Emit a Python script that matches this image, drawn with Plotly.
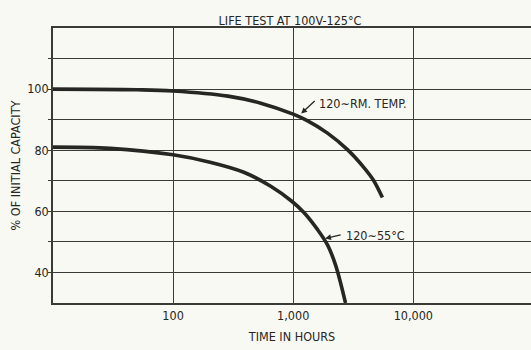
import math
import plotly.graph_objects as go

# Capacity retention, % of initial, versus hours on life test
hours_room = [10, 50, 100, 286, 537, 1000, 1320, 1930, 2830, 3850, 4660, 5530]
cap_room = [100, 99.8, 99.4, 97.7, 95.4, 91.8, 89.6, 85.6, 80.2, 74.5, 70.2, 64.5]

hours_55 = [10, 30, 100, 207, 388, 650, 973, 1222, 1596, 1930, 2250, 2727]
cap_55 = [81, 80.6, 78.5, 76, 72.8, 68.2, 63.3, 59.7, 54, 49, 42.5, 30]

x_ticks = [100, 1000, 10000]
x_tick_text = ["100", "1,000", "10,000"]
y_ticks = [40, 50, 60, 70, 80, 90, 100, 110]
y_tick_text = ["40", "", "60", "", "80", "", "100", ""]

FONT = "Liberation Sans Narrow, DejaVu Sans Condensed, Arial Narrow, sans-serif"
INK = "#262622"
GRID = "#3a3a36"
PAPER = "#f9f9f4"
TXT = dict(family=FONT, size=12.5, color=INK)

fig = go.Figure()
for xs, ys in ((hours_room, cap_room), (hours_55, cap_55)):
    fig.add_trace(go.Scatter(x=xs, y=ys, mode="lines",
                             line=dict(color=INK, width=3.6, shape="spline", smoothing=1.0),
                             hoverinfo="skip"))


def lg(v):
    # annotation x positions on a log axis are given in decades
    return math.log10(v)


# Curve labels with pointer arrows
fig.add_annotation(x=lg(1165), y=92.0, ax=15, ay=-14, axref="pixel", ayref="pixel",
                   text="", showarrow=True, arrowhead=2, arrowsize=0.9,
                   arrowwidth=1.3, arrowcolor=INK)
fig.add_annotation(x=lg(1580), y=95.4, xanchor="left", yanchor="middle", showarrow=False,
                   text="120\u223cRM. TEMP.", font=TXT)
fig.add_annotation(x=lg(1845), y=51.1, ax=17, ay=-4, axref="pixel", ayref="pixel",
                   text="", showarrow=True, arrowhead=2, arrowsize=0.9,
                   arrowwidth=1.3, arrowcolor=INK)
fig.add_annotation(x=lg(2650), y=52.1, xanchor="left", yanchor="middle", showarrow=False,
                   text="120\u223c55\u00b0C", font=TXT)

fig.update_layout(
    width=531, height=350,
    margin=dict(l=53, r=0, t=28, b=47),
    paper_bgcolor=PAPER, plot_bgcolor=PAPER,
    showlegend=False,
    font=TXT,
    title=dict(text="LIFE TEST AT 100V-125\u00b0C", x=290 / 531, xanchor="center",
               y=0.94, yanchor="middle", font=TXT),
    xaxis=dict(type="log", range=[1, 4.98], tickvals=x_ticks, ticktext=x_tick_text,
               showgrid=True, gridcolor=GRID, gridwidth=1.4,
               showline=True, linecolor=GRID, linewidth=1.6, mirror=True,
               ticks="", zeroline=False,
               title=dict(text="TIME IN HOURS", standoff=10, font=TXT),
               tickfont=TXT),
    yaxis=dict(range=[30, 120], tickvals=y_ticks, ticktext=y_tick_text,
               showgrid=True, gridcolor=GRID, gridwidth=1.4,
               showline=True, linecolor=GRID, linewidth=1.6,
               ticks="outside", ticklen=3, tickcolor=GRID, zeroline=False,
               ticklabelstandoff=-3,
               title=dict(text="% OF INITIAL CAPACITY", standoff=4, font=TXT),
               tickfont=TXT),
)

fig.write_html("out.html")
